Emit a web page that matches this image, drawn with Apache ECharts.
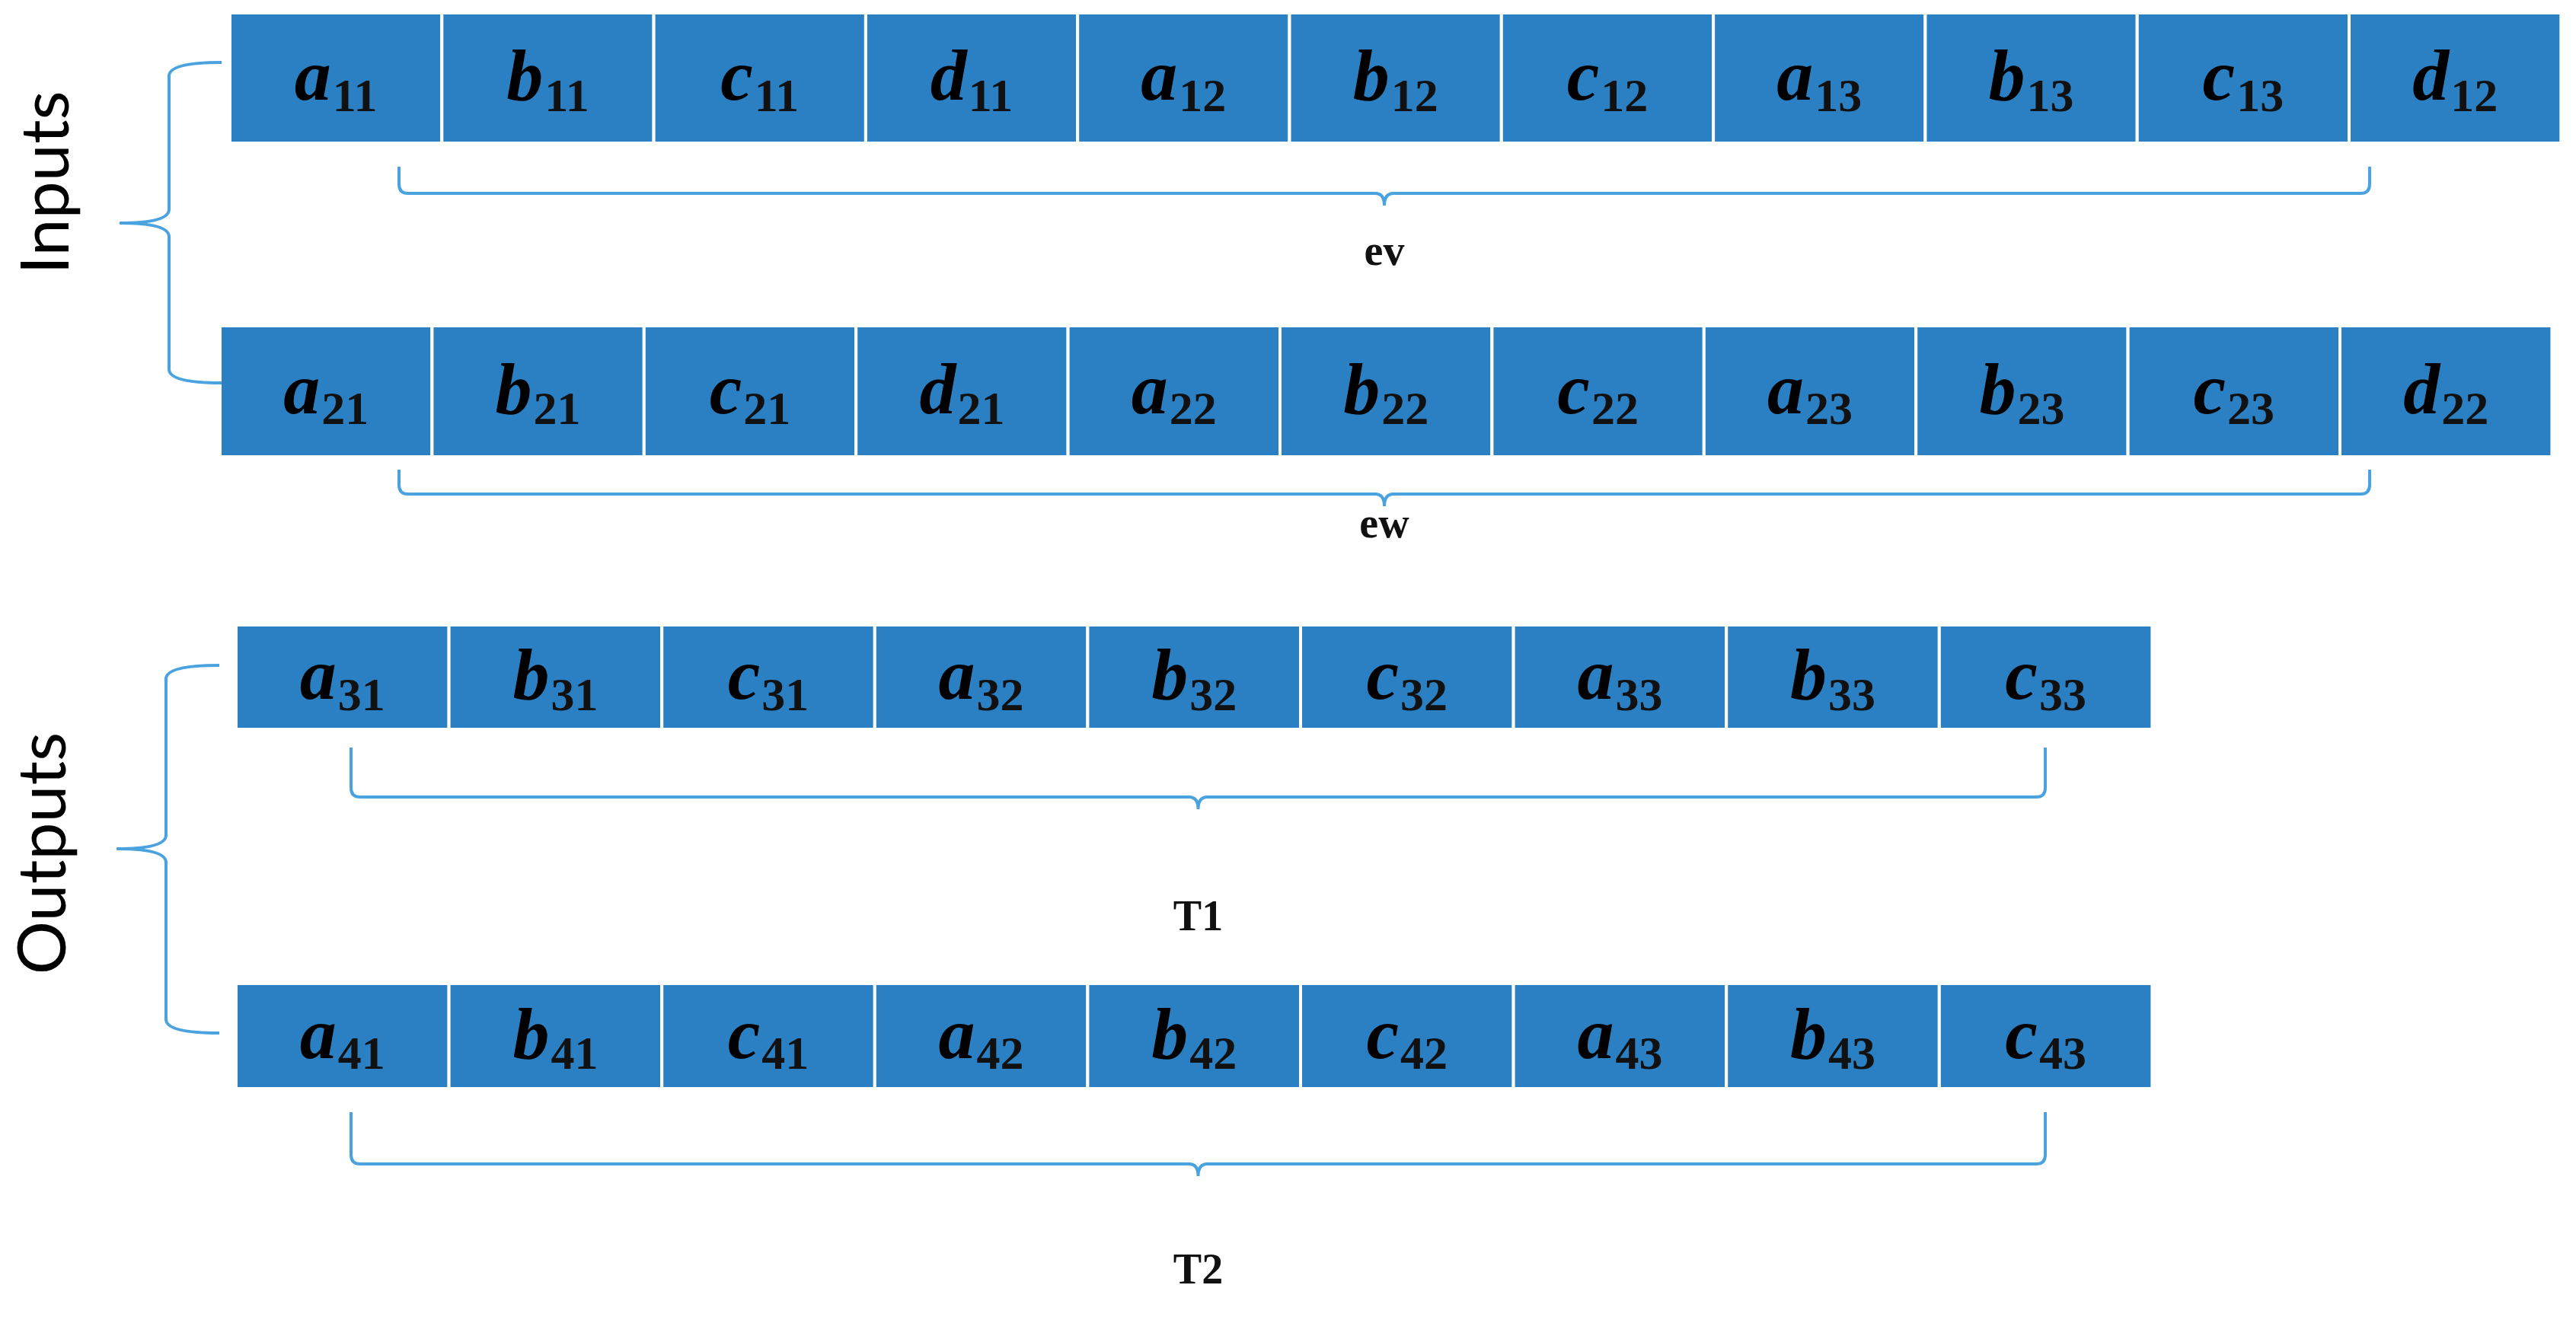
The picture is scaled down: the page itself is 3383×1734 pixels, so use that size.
<!DOCTYPE html>
<html>
<head>
<meta charset="utf-8">
<script src="https://cdn.jsdelivr.net/npm/echarts@6/dist/echarts.min.js"></script>
<style>
  html, body { margin: 0; padding: 0; background: #fff; }
  #chart { width: 3383px; height: 1734px; }
</style>
</head>
<body>
<div id="chart"></div>
<script>
// cell labels per row: [letter, subscript]
const row1 = [['a','11'],['b','11'],['c','11'],['d','11'],['a','12'],['b','12'],['c','12'],['a','13'],['b','13'],['c','13'],['d','12']];
const row2 = [['a','21'],['b','21'],['c','21'],['d','21'],['a','22'],['b','22'],['c','22'],['a','23'],['b','23'],['c','23'],['d','22']];
const row3 = [['a','31'],['b','31'],['c','31'],['a','32'],['b','32'],['c','32'],['a','33'],['b','33'],['c','33']];
const row4 = [['a','41'],['b','41'],['c','41'],['a','42'],['b','42'],['c','42'],['a','43'],['b','43'],['c','43']];
const rows = [row1, row2, row3, row4];
const bracketLabels = ['ev', 'ew', 'T1', 'T2'];
const groupLabels = ['Inputs', 'Outputs'];

// layout (pixels of the page)
const rowLayout = [
  { x: 302, y0: 17, y1: 188, w: 278.3 },
  { x: 289, y0: 428, y1: 600, w: 278.4 },
  { x: 310, y0: 821, y1: 958, w: 279.6 },
  { x: 310, y0: 1292, y1: 1430, w: 279.6 }
];
const bracketLayout = [
  { x0: 524, x1: 3112, top: 219, line: 254, ty: 334 },
  { x0: 524, x1: 3112, top: 617, line: 649, ty: 692 },
  { x0: 461, x1: 2686, top: 982, line: 1047, ty: 1208 },
  { x0: 461, x1: 2686, top: 1461, line: 1529, ty: 1672 }
];
const braceLayout = [
  { x: 222, tip: 157, end: 291, y0: 82, ym: 293, y1: 503, ty: 240, tx: 62 },
  { x: 218, tip: 153, end: 288, y0: 874, ym: 1115, y1: 1357, ty: 1121, tx: 58 }
];

const BLUE = '#2a80c2';
const LINE = '#4aa3df';

const cellData = [];
rows.forEach((r, ri) => r.forEach((c, ci) => cellData.push([ri, ci, c[0], c[1]])));

function renderCell(params, api) {
  const L = rowLayout[api.value(0)];
  const ci = api.value(1);
  const p0 = api.coord([L.x + ci * L.w, L.y0]);
  const p1 = api.coord([L.x + (ci + 1) * L.w, L.y1]);
  return {
    type: 'group',
    children: [{
      type: 'rect',
      shape: { x: p0[0], y: p0[1], width: p1[0] - p0[0], height: p1[1] - p0[1] },
      style: { fill: BLUE, stroke: '#ffffff', lineWidth: 4 }
    }, {
      type: 'text',
      x: (p0[0] + p1[0]) / 2,
      y: (p0[1] + p1[1]) / 2 + 4,
      style: {
        text: '{m|' + api.value(2) + '}{s|' + api.value(3) + '}',
        align: 'center',
        verticalAlign: 'middle',
        rich: {
          m: { fontFamily: 'Liberation Serif', fontStyle: 'italic', fontWeight: 'bold', fontSize: 96, fill: '#000', lineHeight: 110 },
          s: { fontFamily: 'Liberation Serif', fontWeight: 'bold', fontSize: 62, fill: '#111', padding: [46, 0, 0, 2], lineHeight: 110 }
        }
      }
    }]
  };
}

function bracketPath(b) {
  const m = (b.x0 + b.x1) / 2, r = 12;
  return 'M' + b.x0 + ' ' + b.top + ' L' + b.x0 + ' ' + (b.line - r) +
    ' Q' + b.x0 + ' ' + b.line + ' ' + (b.x0 + r) + ' ' + b.line +
    ' L' + (m - r) + ' ' + b.line + ' Q' + m + ' ' + b.line + ' ' + m + ' ' + (b.line + 16) +
    ' Q' + m + ' ' + b.line + ' ' + (m + r) + ' ' + b.line +
    ' L' + (b.x1 - r) + ' ' + b.line + ' Q' + b.x1 + ' ' + b.line + ' ' + b.x1 + ' ' + (b.line - r) +
    ' L' + b.x1 + ' ' + b.top;
}
function bracePath(b) {
  const r = 18;
  return 'M' + b.end + ' ' + b.y0 + ' Q' + b.x + ' ' + b.y0 + ' ' + b.x + ' ' + (b.y0 + r) +
    ' L' + b.x + ' ' + (b.ym - r) + ' Q' + b.x + ' ' + b.ym + ' ' + b.tip + ' ' + b.ym +
    ' Q' + b.x + ' ' + b.ym + ' ' + b.x + ' ' + (b.ym + r) +
    ' L' + b.x + ' ' + (b.y1 - r) + ' Q' + b.x + ' ' + b.y1 + ' ' + b.end + ' ' + b.y1;
}

function renderBrackets(params, api) {
  const children = [];
  bracketLayout.forEach((b, i) => {
    children.push({ type: 'path', shape: { pathData: bracketPath(b) }, style: { fill: null, stroke: LINE, lineWidth: 4 } });
    children.push({ type: 'text', x: (b.x0 + b.x1) / 2, y: b.ty, style: {
      text: bracketLabels[i], align: 'center', verticalAlign: 'middle',
      fontFamily: 'Liberation Serif', fontWeight: 'bold', fontSize: 56, fill: '#111' } });
  });
  braceLayout.forEach((b, i) => {
    children.push({ type: 'path', shape: { pathData: bracePath(b) }, style: { fill: null, stroke: LINE, lineWidth: 4 } });
    children.push({ type: 'text', x: b.tx, y: b.ty, rotation: Math.PI / 2, style: {
      text: groupLabels[i], align: 'center', verticalAlign: 'middle',
      fontFamily: 'Lato', fontSize: 88, fill: '#000' } });
  });
  return { type: 'group', children: children };
}

const chart = echarts.init(document.getElementById('chart'));
chart.setOption({
  animation: false,
  grid: { left: 0, right: 0, top: 0, bottom: 0 },
  xAxis: { type: 'value', min: 0, max: 3383, show: false },
  yAxis: { type: 'value', min: 0, max: 1734, inverse: true, show: false },
  series: [
    { type: 'custom', renderItem: renderCell, data: cellData, silent: true },
    { type: 'custom', renderItem: renderBrackets, data: [[0, 0]], silent: true }
  ]
});
</script>
</body>
</html>
